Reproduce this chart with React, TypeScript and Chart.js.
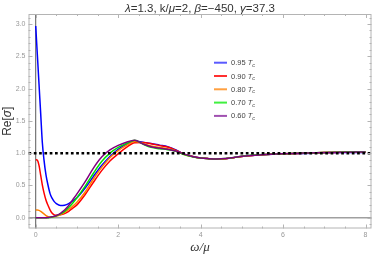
import React, { useEffect, useRef } from "react";
import { Chart, registerables } from "chart.js";

Chart.register(...registerables);

const xs = [0, 0.04, 0.08, 0.12, 0.16, 0.2, 0.25, 0.3, 0.35, 0.4, 0.45, 0.5, 0.6, 0.7, 0.8, 0.9, 1.0, 1.2, 1.4, 1.6, 1.8, 2.0, 2.2, 2.4, 2.6, 2.8, 3.0, 3.2, 3.4, 3.6, 3.8, 4.0, 4.2, 4.4, 4.6, 4.8, 5.0, 5.5, 6.0, 6.5, 7.0, 7.5, 8.0];

const blue95 = [2.97, 2.52, 2.07, 1.62, 1.17, 0.9, 0.66, 0.5, 0.37, 0.3, 0.25, 0.22, 0.19, 0.195, 0.22, 0.26, 0.31, 0.46, 0.64, 0.81, 0.95, 1.06, 1.14, 1.19, 1.17, 1.15, 1.125, 1.1, 1.05, 0.985, 0.95, 0.925, 0.915, 0.91, 0.915, 0.93, 0.95, 0.975, 0.99, 0.995, 1.005, 1.01, 1.01];
const red90 = [0.9, 0.89, 0.81, 0.66, 0.51, 0.39, 0.27, 0.19, 0.12, 0.07, 0.045, 0.04, 0.045, 0.065, 0.1, 0.15, 0.2, 0.36, 0.55, 0.73, 0.88, 0.99, 1.09, 1.16, 1.165, 1.145, 1.12, 1.095, 1.045, 0.985, 0.95, 0.925, 0.915, 0.91, 0.915, 0.93, 0.95, 0.975, 0.99, 1.0, 1.01, 1.015, 1.015];
const orange80 = [0.12, 0.12, 0.115, 0.1, 0.08, 0.06, 0.035, 0.018, 0.01, 0.012, 0.018, 0.025, 0.05, 0.085, 0.13, 0.18, 0.24, 0.4, 0.6, 0.78, 0.93, 1.04, 1.12, 1.18, 1.15, 1.11, 1.09, 1.07, 1.035, 0.98, 0.948, 0.925, 0.915, 0.91, 0.915, 0.93, 0.95, 0.975, 0.99, 1.0, 1.01, 1.015, 1.018];
const green70 = [0, 0, 0, 0, 0, 0, 0, 0, 0.005, 0.01, 0.02, 0.03, 0.06, 0.1, 0.16, 0.23, 0.31, 0.49, 0.69, 0.87, 1.0, 1.09, 1.15, 1.2, 1.14, 1.09, 1.07, 1.055, 1.03, 0.98, 0.945, 0.925, 0.915, 0.91, 0.917, 0.933, 0.952, 0.978, 0.993, 1.003, 1.012, 1.018, 1.022];
const purple60 = [0, 0, 0, 0, 0, 0, 0, 0.005, 0.01, 0.015, 0.025, 0.035, 0.07, 0.12, 0.19, 0.28, 0.37, 0.56, 0.77, 0.94, 1.05, 1.12, 1.17, 1.2, 1.145, 1.1, 1.08, 1.06, 1.035, 0.985, 0.948, 0.925, 0.915, 0.91, 0.916, 0.932, 0.951, 0.977, 0.992, 1.002, 1.011, 1.016, 1.02];

const seriesLabels = ["0.95", "0.90", "0.80", "0.70", "0.60"];
const seriesValues = [blue95, red90, orange80, green70, purple60];
const seriesColors = ["#0000ff", "#ff0000", "#ff8000", "#00e000", "#800080"];
const legendColors = ["#5a5aff", "#ff3030", "#ffa040", "#40f040", "#a050b0"];

const xMin = -0.175, xMax = 8.145, yMin = -0.166, yMax = 3.155;
const refLineY = 1.0;

const titleParts: [string, boolean][] = [
  ["λ", true], ["=1.3, k/", false], ["μ", true], ["=2, ", false], ["β", true], ["=−450, ", false], ["γ", true], ["=37.3", false],
];

const decorPlugin = {
  id: "decor",
  beforeDatasetsDraw(chart: any) {
    const { ctx, chartArea: a, scales } = chart;
    const x = scales.x, y = scales.y;
    ctx.save();
    ctx.strokeStyle = "#a0a0a0";
    ctx.lineWidth = 1.4;
    const y0 = y.getPixelForValue(0);
    ctx.beginPath(); ctx.moveTo(a.left, y0); ctx.lineTo(a.right, y0); ctx.stroke();
    ctx.strokeStyle = "#5a5a5a";
    ctx.lineWidth = 1;
    const x0 = x.getPixelForValue(0);
    ctx.beginPath(); ctx.moveTo(x0, a.top); ctx.lineTo(x0, a.bottom); ctx.stroke();
    ctx.restore();
  },
  afterDatasetsDraw(chart: any) {
    const { ctx, chartArea: a, scales } = chart;
    const y = scales.y;
    ctx.save();
    ctx.strokeStyle = "#000";
    ctx.lineWidth = 2.6;
    ctx.setLineDash([2.7, 2.6]);
    const y1 = y.getPixelForValue(refLineY);
    ctx.beginPath(); ctx.moveTo(a.left, y1); ctx.lineTo(a.right, y1); ctx.stroke();
    ctx.restore();
  },
  afterDraw(chart: any) {
    const { ctx, chartArea: a, scales } = chart;
    const x = scales.x, y = scales.y;
    ctx.save();
    ctx.strokeStyle = "#b4b4b4";
    ctx.lineWidth = 1;
    ctx.strokeRect(a.left + 0.5, a.top + 0.5, a.right - a.left - 1, a.bottom - a.top - 1);
    ctx.beginPath();
    for (let v = 0; v <= 8.001; v += 0.5) {
      const px = Math.round(x.getPixelForValue(v)) + 0.5;
      const major = Math.abs(v / 2 - Math.round(v / 2)) < 1e-6;
      const len = major ? 4 : 2;
      ctx.moveTo(px, a.bottom); ctx.lineTo(px, a.bottom - len);
      ctx.moveTo(px, a.top); ctx.lineTo(px, a.top + len);
    }
    for (let i = -1; i <= 31; i++) {
      const v = i / 10;
      if (v < yMin || v > yMax) continue;
      const py = Math.round(y.getPixelForValue(v)) + 0.5;
      const major = i % 5 === 0;
      const len = major ? 4 : 2;
      ctx.moveTo(a.left, py); ctx.lineTo(a.left + len, py);
      ctx.moveTo(a.right, py); ctx.lineTo(a.right - len, py);
    }
    ctx.stroke();

    // title
    ctx.fillStyle = "#333";
    ctx.textBaseline = "alphabetic";
    const tf = (it: boolean) => `${it ? "italic " : ""}11.5px "Liberation Sans", Arial, sans-serif`;
    let total = 0;
    for (const [t, it] of titleParts) { ctx.font = tf(it); total += ctx.measureText(t).width; }
    let tx = (a.left + a.right) / 2 - total / 2;
    for (const [t, it] of titleParts) {
      ctx.font = tf(it);
      ctx.textAlign = "left";
      ctx.fillText(t, tx, 11.5);
      tx += ctx.measureText(t).width;
    }

    // legend
    const lx = 214, lw = 13, ty0 = 62.7, dy = 13.3;
    seriesLabels.forEach((lab, i) => {
      const ly = ty0 + i * dy;
      ctx.strokeStyle = legendColors[i];
      ctx.lineWidth = 2;
      ctx.beginPath(); ctx.moveTo(lx, ly); ctx.lineTo(lx + lw, ly); ctx.stroke();
      ctx.fillStyle = "#444";
      ctx.textBaseline = "middle";
      ctx.textAlign = "left";
      ctx.font = `7.5px "Liberation Sans", Arial, sans-serif`;
      const s = lab + " ";
      ctx.fillText(s, lx + lw + 4, ly + 0.5);
      let px = lx + lw + 4 + ctx.measureText(s).width;
      ctx.font = `italic 7.5px "Liberation Sans", Arial, sans-serif`;
      ctx.fillText("T", px, ly + 0.5);
      px += ctx.measureText("T").width;
      ctx.font = `italic 5.5px "Liberation Sans", Arial, sans-serif`;
      ctx.fillText("c", px, ly + 2.5);
    });

    // y axis label
    ctx.save();
    ctx.translate(8, (a.top + a.bottom) / 2);
    ctx.rotate(-Math.PI / 2);
    ctx.fillStyle = "#333";
    ctx.textBaseline = "middle";
    const yl: [string, boolean][] = [["Re[", false], ["σ", true], ["]", false]];
    const yf = (it: boolean) => `${it ? "italic " : ""}12px "Liberation Sans", Arial, sans-serif`;
    let w = 0;
    for (const [t, it] of yl) { ctx.font = yf(it); w += ctx.measureText(t).width; }
    let cx = -w / 2;
    ctx.textAlign = "left";
    for (const [t, it] of yl) { ctx.font = yf(it); ctx.fillText(t, cx, 0); cx += ctx.measureText(t).width; }
    ctx.restore();

    // x axis label
    ctx.fillStyle = "#333";
    ctx.font = `italic 13px "Liberation Serif", "Times New Roman", serif`;
    ctx.textAlign = "center";
    ctx.textBaseline = "middle";
    ctx.fillText("ω/μ", (a.left + a.right) / 2, 247.5);
    ctx.restore();
  },
};

export default function App() {
  const ref = useRef<HTMLCanvasElement | null>(null);
  useEffect(() => {
    document.body.style.margin = "0";
    const canvas = ref.current!;
    const order = [4, 3, 2, 1, 0];
    const chart = new Chart(canvas, {
      type: "line",
      data: {
        datasets: seriesValues.map((vals, i) => ({
          label: seriesLabels[i],
          data: xs.map((xv, j) => ({ x: xv, y: vals[j] })),
          borderColor: seriesColors[i],
          backgroundColor: seriesColors[i],
          borderWidth: 1.5,
          pointRadius: 0,
          cubicInterpolationMode: "monotone" as const,
          fill: false,
          order: order[i],
        })),
      },
      options: {
        animation: false,
        responsive: false,
        maintainAspectRatio: false,
        layout: { padding: { top: 14, right: 2.5, left: 0, bottom: 0 } },
        plugins: { legend: { display: false }, tooltip: { enabled: false }, title: { display: false } },
        scales: {
          x: {
            type: "linear",
            min: xMin,
            max: xMax,
            grid: { display: false, drawTicks: false },
            border: { display: false },
            ticks: {
              stepSize: 2,
              includeBounds: false,
              color: "#999",
              font: { size: 7, family: '"Liberation Sans", Arial, sans-serif' },
              padding: 2,
              maxRotation: 0,
            },
            afterFit: (s: any) => { s.height = 27.5; },
          },
          y: {
            type: "linear",
            min: yMin,
            max: yMax,
            grid: { display: false, drawTicks: false },
            border: { display: false },
            ticks: {
              stepSize: 0.5,
              includeBounds: false,
              color: "#999",
              font: { size: 7, family: '"Liberation Sans", Arial, sans-serif' },
              padding: 3,
              callback: (v: any) => Number(v).toFixed(1),
            },
            afterFit: (s: any) => { s.width = 28.5; },
          },
        },
      },
      plugins: [decorPlugin],
    });
    return () => chart.destroy();
  }, []);
  return (
    <div style={{ width: 374, height: 256 }}>
      <canvas ref={ref} width={374} height={256} style={{ width: 374, height: 256, display: "block" }} />
    </div>
  );
}
